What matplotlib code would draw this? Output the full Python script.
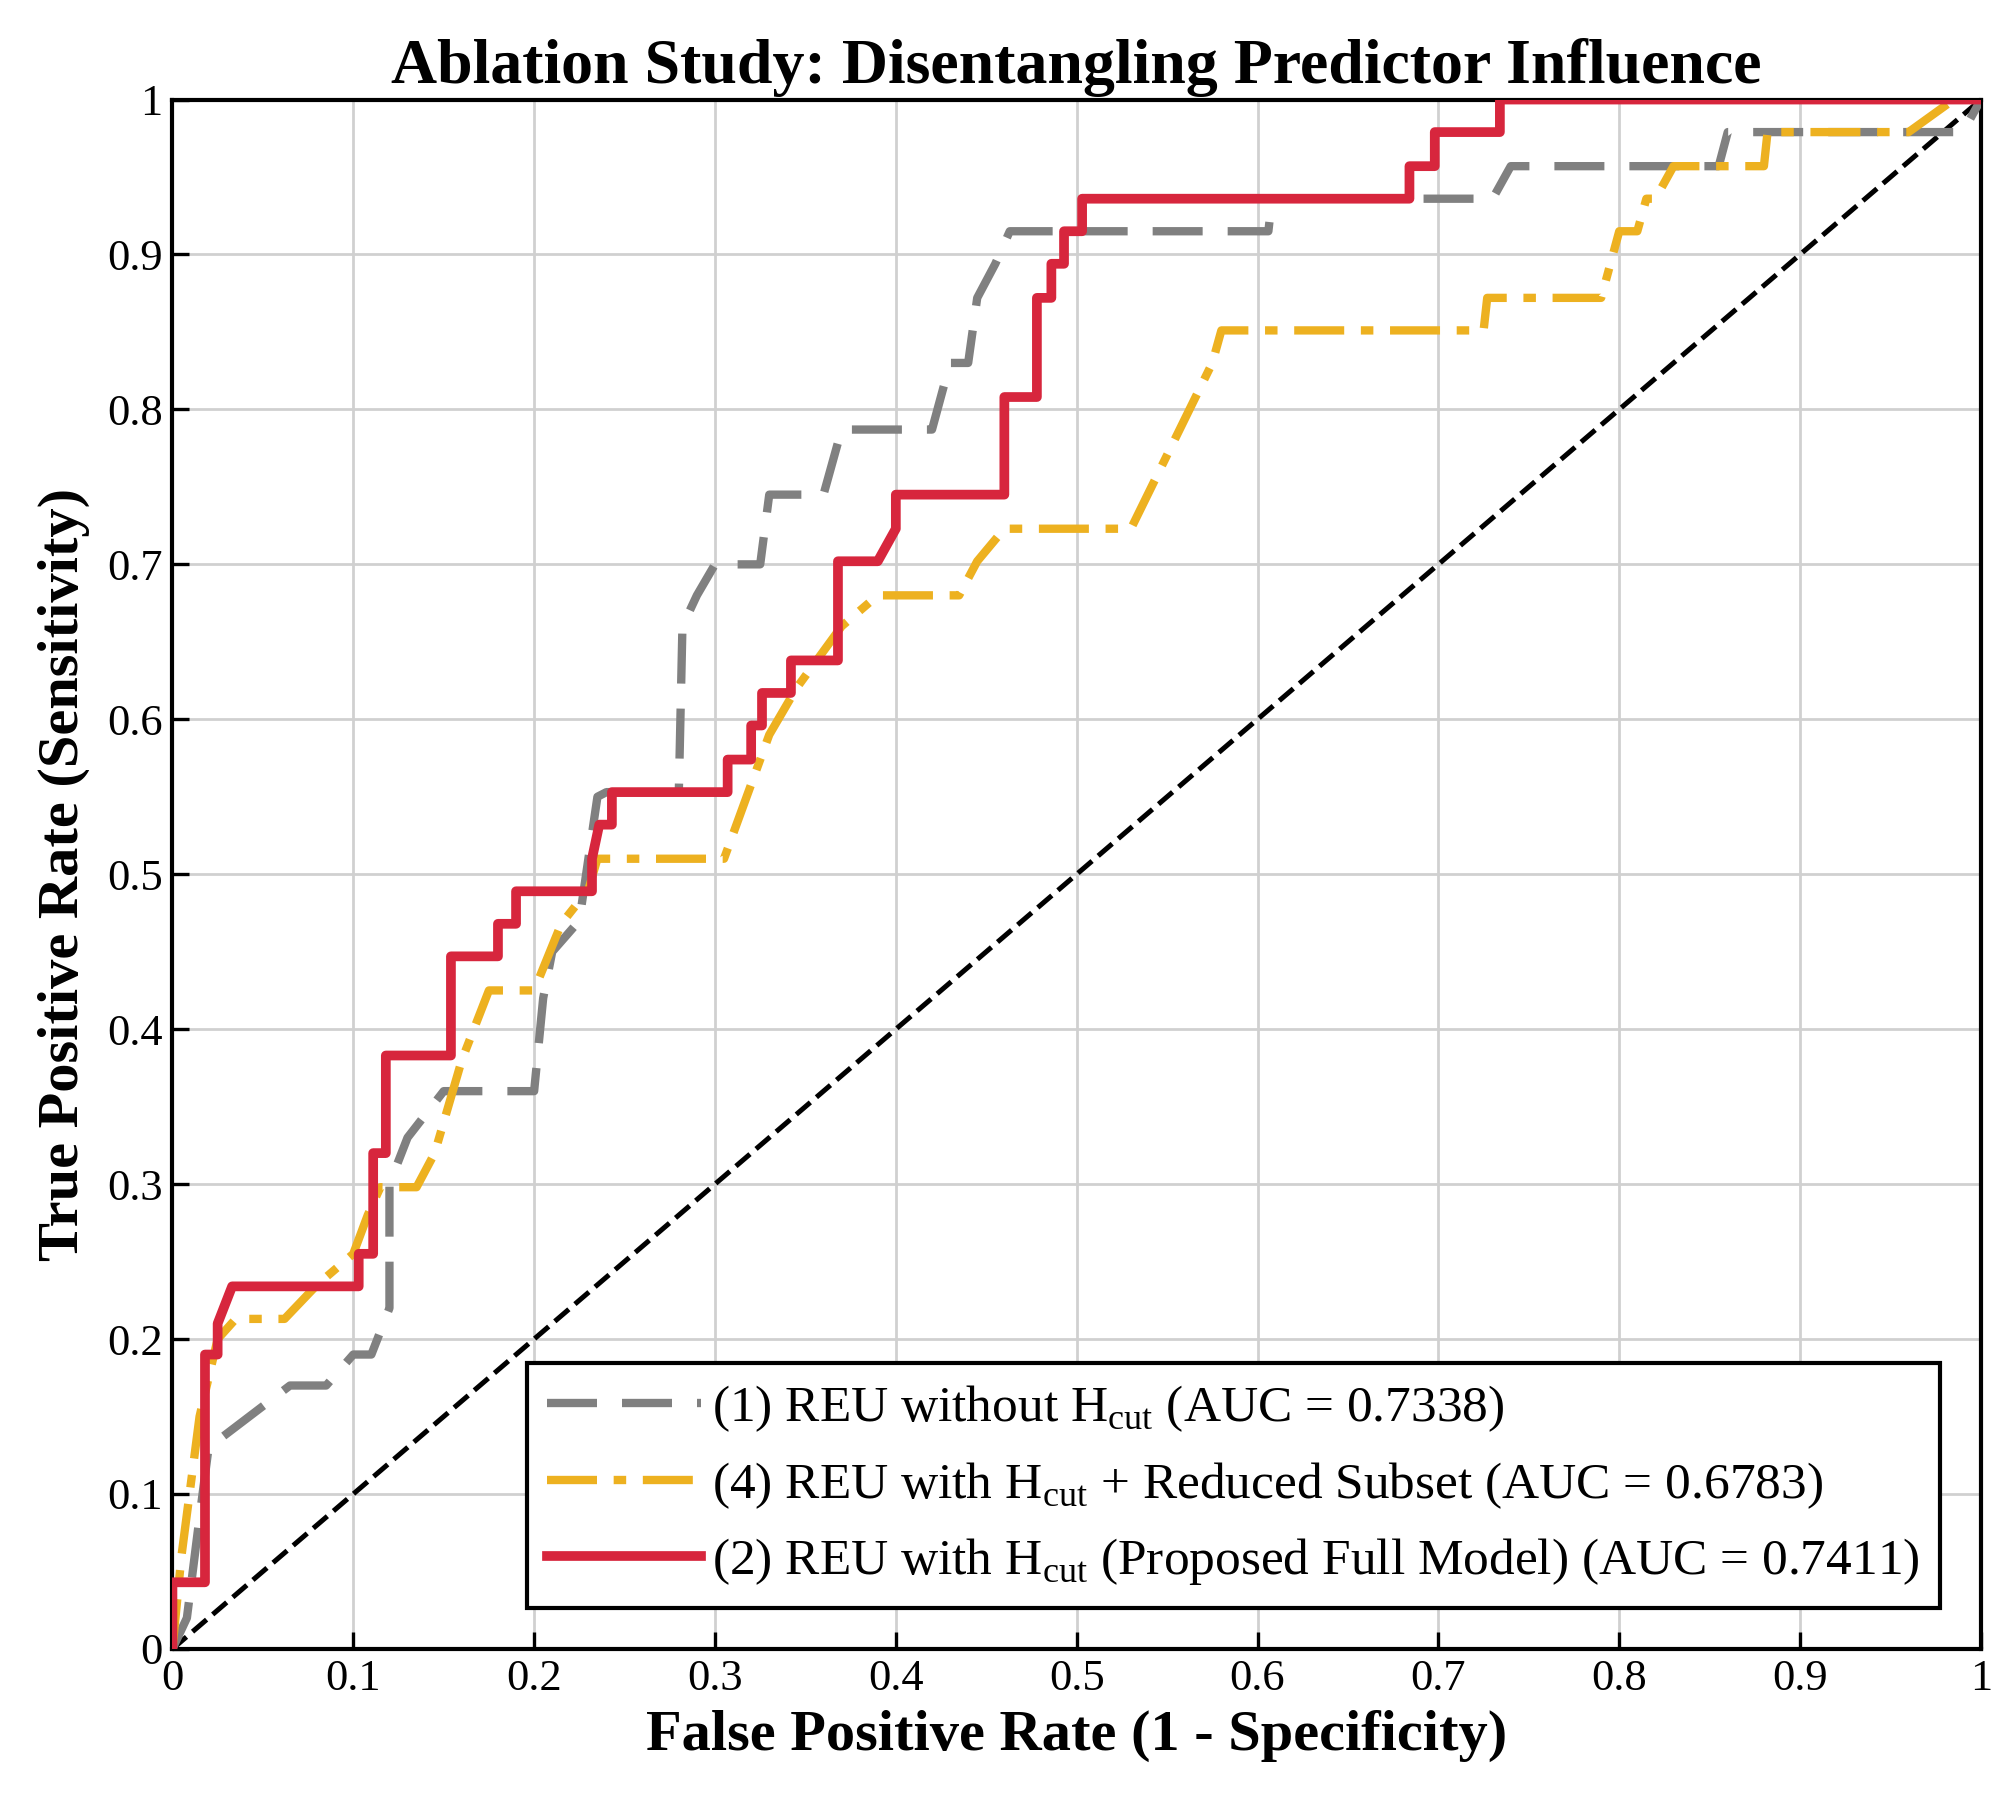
import numpy as np
import matplotlib.pyplot as plt
from matplotlib.ticker import FixedLocator

plt.rcParams['font.family'] = ['Liberation Serif', 'DejaVu Serif']
plt.rcParams['mathtext.fontset'] = 'custom'
plt.rcParams['mathtext.rm'] = 'Liberation Serif'

# ── Data ──────────────────────────────────────────────────────
fpr_full = [0, 0, 0.018, 0.018, 0.025, 0.025, 0.033, 0.103, 0.103, 0.111, 0.111, 0.118, 0.118,
            0.154, 0.154, 0.18, 0.18, 0.19, 0.19, 0.232, 0.232, 0.236, 0.243, 0.243, 0.307, 0.307,
            0.32, 0.32, 0.326, 0.326, 0.342, 0.342, 0.368, 0.368, 0.39, 0.4, 0.4, 0.46, 0.46,
            0.478, 0.478, 0.486, 0.486, 0.493, 0.493, 0.503, 0.503, 0.684, 0.684, 0.698, 0.698,
            0.734, 0.734, 1.0]
tpr_full = [0, 0.043, 0.043, 0.19, 0.19, 0.21, 0.234, 0.234, 0.255, 0.255, 0.32, 0.32, 0.383,
            0.383, 0.447, 0.447, 0.468, 0.468, 0.489, 0.489, 0.51, 0.532, 0.532, 0.553, 0.553, 0.574,
            0.574, 0.596, 0.596, 0.617, 0.617, 0.638, 0.638, 0.702, 0.702, 0.723, 0.745, 0.745, 0.808,
            0.808, 0.872, 0.872, 0.894, 0.894, 0.915, 0.915, 0.936, 0.936, 0.957, 0.957, 0.979,
            0.979, 1.0, 1.0]

fpr_noh = [0, 0.008, 0.015, 0.02, 0.065, 0.085, 0.1, 0.11, 0.12, 0.12, 0.13, 0.15, 0.2, 0.205,
           0.21, 0.225, 0.235, 0.24, 0.28, 0.282, 0.29, 0.3, 0.325, 0.33, 0.36, 0.37, 0.42, 0.43,
           0.44, 0.445, 0.455, 0.463, 0.606, 0.608, 0.73, 0.74, 0.855, 0.86, 0.99, 1.0]
tpr_noh = [0, 0.02, 0.085, 0.13, 0.17, 0.17, 0.19, 0.19, 0.22, 0.3, 0.33, 0.36, 0.36, 0.42,
           0.45, 0.47, 0.55, 0.553, 0.553, 0.66, 0.68, 0.70, 0.70, 0.745, 0.745, 0.787, 0.787, 0.83,
           0.83, 0.872, 0.894, 0.915, 0.915, 0.936, 0.936, 0.957, 0.957, 0.979, 0.979, 1.0]

fpr_red = [0, 0.005, 0.015, 0.025, 0.035, 0.062, 0.08, 0.1, 0.108, 0.115, 0.135, 0.145, 0.16,
           0.175, 0.2, 0.215, 0.23, 0.235, 0.305, 0.33, 0.345, 0.37, 0.39, 0.435, 0.445, 0.46,
           0.53, 0.575, 0.58, 0.725, 0.727, 0.79, 0.8, 0.81, 0.815, 0.82, 0.83, 0.88, 0.882,
           0.96, 0.985, 1.0]
tpr_red = [0, 0.06, 0.15, 0.2, 0.213, 0.213, 0.235, 0.255, 0.28, 0.298, 0.298, 0.32, 0.38,
           0.425, 0.425, 0.468, 0.49, 0.51, 0.51, 0.59, 0.62, 0.66, 0.68, 0.68, 0.702, 0.723,
           0.723, 0.83, 0.851, 0.851, 0.872, 0.872, 0.915, 0.915, 0.936, 0.936, 0.957, 0.957,
           0.979, 0.979, 1.0, 1.0]

labels = [r'(1) REU without H$_{\rm cut}$ (AUC = 0.7338)',
          r'(4) REU with H$_{\rm cut}$ + Reduced Subset (AUC = 0.6783)',
          r'(2) REU with H$_{\rm cut}$ (Proposed Full Model) (AUC = 0.7411)']

# ── Plot ──────────────────────────────────────────────────────
fig = plt.figure(figsize=(10.025, 9.05), dpi=200)
ax = fig.add_axes([0.086, 0.089, 0.902, 0.856])

ax.plot([0, 1], [0, 1], 'k--', lw=1.8, zorder=2)
ax.plot(fpr_noh, tpr_noh, color='#808080', lw=3, dashes=(6, 3), label=labels[0], zorder=3)
ax.plot(fpr_red, tpr_red, color='#EDB120', lw=3, dashes=(6, 2, 1.5, 2), label=labels[1], zorder=4)
ax.plot(fpr_full, tpr_full, color='#D7263D', lw=3.5, label=labels[2], zorder=5)

ticks = np.round(np.arange(0, 1.01, 0.1), 1)
ticklabels = ['0'] + [f'{t:g}' for t in ticks[1:-1]] + ['1']
ax.set_xlim(0, 1)
ax.set_ylim(0, 1)
ax.xaxis.set_major_locator(FixedLocator(ticks))
ax.yaxis.set_major_locator(FixedLocator(ticks))
ax.set_xticklabels(ticklabels)
ax.set_yticklabels(ticklabels)
ax.tick_params(direction='in', labelsize=16, length=6, width=1.2, top=False, right=False)
ax.grid(True, color='#d0d0d0', lw=1)
for s in ax.spines.values():
    s.set_linewidth(1.5)

ax.set_xlabel('False Positive Rate (1 - Specificity)', fontsize=21, fontweight='bold', labelpad=4)
ax.set_ylabel('True Positive Rate (Sensitivity)', fontsize=21, fontweight='bold', labelpad=6)
ax.set_title('Ablation Study: Disentangling Predictor Influence', fontsize=23,
             fontweight='bold', pad=6)

leg = ax.legend(loc='lower right', fontsize=18.5, fancybox=False, framealpha=1,
                edgecolor='black', handlelength=3.0, handletextpad=0.2, borderaxespad=0.8,
                labelspacing=0.5)
leg.get_frame().set_linewidth(1.5)

plt.savefig('out.png', dpi=200)
